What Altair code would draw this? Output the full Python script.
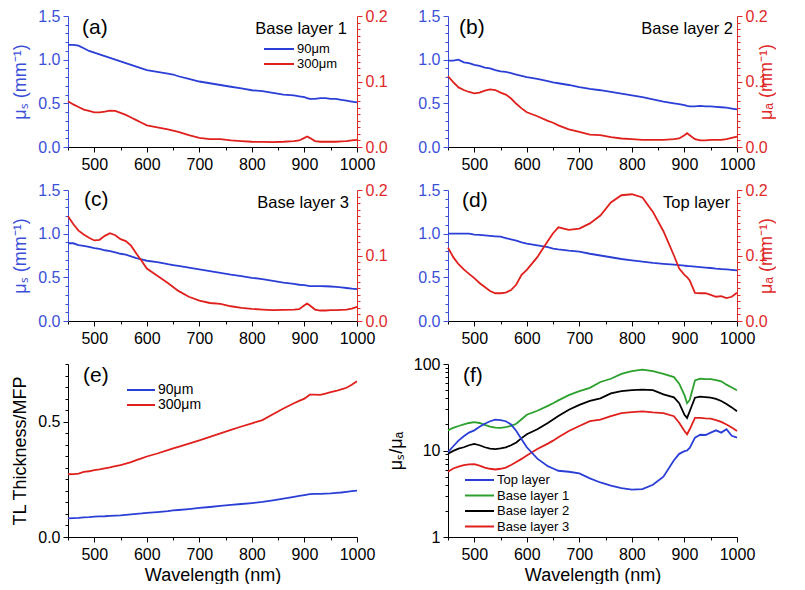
import altair as alt
import pandas as pd

# ---------------- data ----------------
wavelength = [450, 460, 470, 480, 490, 500, 510, 520, 530, 540, 550, 560, 570, 580, 590, 600,
              620, 640, 650, 660, 680,
              700, 720, 740, 760, 780, 800, 820, 840, 860, 880,
              890, 900, 905, 910,
              920, 930, 940, 950, 960, 970, 980, 990, 1000]

a_mus = [1.17, 1.17, 1.16, 1.13, 1.10, 1.08, 1.06, 1.04, 1.02, 1.00, 0.98, 0.96, 0.94, 0.92, 0.90, 0.88,
         0.86, 0.84, 0.83, 0.81, 0.78,
         0.75, 0.73, 0.71, 0.69, 0.67, 0.65, 0.64, 0.62, 0.60, 0.59,
         0.58, 0.57, 0.56, 0.55,
         0.55, 0.56, 0.56, 0.55, 0.55, 0.54, 0.53, 0.52, 0.51]
a_mua = [0.070, 0.065, 0.061, 0.057, 0.055, 0.053, 0.053, 0.054, 0.0555, 0.055, 0.052, 0.049, 0.045, 0.041, 0.037, 0.033,
         0.030, 0.027, 0.025, 0.023, 0.018,
         0.014, 0.012, 0.012, 0.010, 0.009, 0.008, 0.0078, 0.0075, 0.008, 0.009,
         0.010, 0.014, 0.016, 0.014,
         0.009, 0.008, 0.008, 0.008, 0.008, 0.0085, 0.009, 0.010, 0.011]

b_mus = [0.99, 0.99, 1.00, 0.97, 0.96, 0.94, 0.93, 0.91, 0.90, 0.88, 0.865, 0.86, 0.845, 0.83, 0.815, 0.80,
         0.78, 0.755, 0.74, 0.73, 0.71,
         0.685, 0.665, 0.65, 0.63, 0.61, 0.59, 0.57, 0.545, 0.52, 0.50,
         0.49, 0.48, 0.47, 0.465,
         0.465, 0.47, 0.465, 0.465, 0.46, 0.455, 0.45, 0.44, 0.43]
b_mua = [0.108, 0.099, 0.091, 0.087, 0.084, 0.082, 0.083, 0.086, 0.088, 0.087, 0.083, 0.080, 0.074, 0.066, 0.059, 0.053,
         0.047, 0.040, 0.037, 0.033, 0.027,
         0.023, 0.019, 0.018, 0.015, 0.013, 0.012, 0.011, 0.011, 0.011, 0.012,
         0.013, 0.018, 0.021, 0.018,
         0.012, 0.010, 0.010, 0.011, 0.011, 0.011, 0.012, 0.014, 0.016]

c_mus = [0.89, 0.89, 0.87, 0.86, 0.85, 0.835, 0.825, 0.81, 0.80, 0.785, 0.77, 0.76, 0.74, 0.72, 0.705, 0.69,
         0.675, 0.65, 0.64, 0.63, 0.61,
         0.59, 0.57, 0.55, 0.53, 0.515, 0.495, 0.48, 0.46, 0.44, 0.425,
         0.415, 0.41, 0.405, 0.40,
         0.40, 0.40, 0.398, 0.395, 0.39, 0.385, 0.378, 0.37, 0.365]
c_mua = [0.160, 0.148, 0.138, 0.132, 0.127, 0.123, 0.124, 0.130, 0.134, 0.131, 0.125, 0.122, 0.115, 0.103, 0.092, 0.080,
         0.069, 0.058, 0.052, 0.046, 0.037,
         0.031, 0.0275, 0.026, 0.0225, 0.020, 0.0185, 0.0175, 0.0165, 0.017, 0.0175,
         0.018, 0.024, 0.0265, 0.024,
         0.0175, 0.016, 0.016, 0.0165, 0.0165, 0.017, 0.0175, 0.019, 0.0215]

d_mus = [1.0, 1.0, 1.0, 1.0, 1.0, 0.99, 0.985, 0.98, 0.975, 0.97, 0.965, 0.95, 0.935, 0.92, 0.90, 0.887,
         0.865, 0.845, 0.83, 0.82, 0.805,
         0.794, 0.77, 0.75, 0.73, 0.71, 0.694, 0.68, 0.665, 0.655, 0.645,
         0.64, 0.634, 0.63, 0.628,
         0.622, 0.617, 0.612, 0.607, 0.60, 0.595, 0.59, 0.585, 0.58]
d_mua = [0.112, 0.0975, 0.0867, 0.0787, 0.072, 0.0655, 0.058, 0.052, 0.0458, 0.0424, 0.0424, 0.0433, 0.0473, 0.0557, 0.0705, 0.078,
         0.0975, 0.122, 0.134, 0.143, 0.139,
         0.141, 0.149, 0.161, 0.181, 0.192, 0.1935, 0.1887, 0.1665, 0.137, 0.100,
         0.080, 0.0705, 0.067, 0.062,
         0.043, 0.0424, 0.0424, 0.040, 0.037, 0.038, 0.035, 0.037, 0.043]

e_90 = [0.081, 0.082, 0.083, 0.085, 0.086, 0.088, 0.089, 0.090, 0.092, 0.093, 0.094, 0.096, 0.098, 0.100, 0.102, 0.105,
        0.108, 0.112, 0.115, 0.117, 0.121,
        0.126, 0.130, 0.135, 0.139, 0.143, 0.147, 0.152, 0.159, 0.166, 0.174,
        0.178, 0.182, 0.184, 0.186,
        0.187, 0.187, 0.188, 0.189, 0.191, 0.193, 0.196, 0.199, 0.201]
e_300 = [0.272, 0.273, 0.275, 0.282, 0.285, 0.290, 0.293, 0.298, 0.302, 0.307, 0.312, 0.318, 0.325, 0.333, 0.341, 0.349,
         0.362, 0.377, 0.384, 0.391, 0.405,
         0.419, 0.434, 0.449, 0.464, 0.479, 0.493, 0.507, 0.532, 0.557, 0.580,
         0.590, 0.600, 0.608, 0.617,
         0.617, 0.616, 0.622, 0.628, 0.633, 0.640, 0.647, 0.660, 0.675]

f_top = [9.57, 11.2, 13.0, 14.6, 16.1, 17.1, 18.8, 20.4, 21.8, 22.8, 22.5, 21.8, 20.0, 16.8, 13.5, 10.9,
         8.04, 6.59, 6.2, 5.83, 5.68,
         5.43, 4.77, 4.27, 3.92, 3.68, 3.53, 3.58, 4.02, 4.99, 7.71,
         9.15, 9.82, 10.0, 10.7,
         14.1, 15.2, 15.1, 16.1, 17.1, 16.1, 17.6, 14.8, 14.1]
f_b1 = [17.1, 18.3, 19.2, 20.0, 20.8, 21.3, 20.8, 19.8, 18.9, 18.4, 18.3, 18.6, 19.3, 20.4, 23.0, 25.9,
        28.8, 32.8, 35.2, 38.0, 43.6,
        48.5, 53.0, 62.0, 67.5, 76.9, 82.5, 86.0, 82.5, 77.0, 70.5,
        59.3, 43.6, 35.2, 38.4,
        64.6, 67.5, 67.0, 66.7, 65.0, 63.0, 57.7, 53.5, 49.8]
f_b2 = [9.15, 9.9, 10.5, 10.9, 11.5, 11.9, 11.5, 10.9, 10.5, 10.4, 10.6, 10.9, 11.5, 12.4, 13.9, 15.4,
        17.6, 20.8, 22.8, 25.0, 29.6,
        33.7, 37.4, 40.1, 45.7, 48.5, 49.8, 50.5, 49.8, 44.5, 41.1,
        35.2, 25.9, 23.8, 28.4,
        40.8, 41.9, 41.5, 40.8, 39.5, 37.4, 34.5, 31.5, 28.4]
f_b3 = [5.68, 6.2, 6.5, 6.77, 6.9, 6.95, 6.7, 6.35, 6.15, 6.03, 6.15, 6.35, 6.8, 7.37, 8.0, 8.78,
        10.4, 12.0, 13.0, 14.2, 16.8,
        19.2, 21.8, 22.8, 24.9, 27.1, 27.8, 28.4, 27.6, 27.1, 24.9,
        20.9, 16.8, 15.4, 17.6,
        23.8, 23.8, 23.5, 23.3, 22.5, 21.4, 20.0, 18.4, 16.8]

panel_letters = ["(a)", "(b)", "(c)", "(d)", "(e)", "(f)"]
panel_names = ["Base layer 1", "Base layer 2", "Base layer 3", "Top layer"]
thickness_labels = ["90\u03bcm", "300\u03bcm"]
ratio_labels = ["Top layer", "Base layer 1", "Base layer 2", "Base layer 3"]

x_ticks = list(range(450, 1001, 50))
mus_ticks = [round(i * 0.1, 1) for i in range(16)]
mua_ticks = [round(i * 0.01, 2) for i in range(21)]
tl_ticks = [round(i * 0.05, 2) for i in range(16)]
ratio_ticks = [1, 2, 3, 4, 5, 6, 7, 8, 9, 10, 20, 30, 40, 50, 60, 70, 80, 90, 100]

# ---------------- styles ----------------
BLUE = "#2b3fd6"
RED = "#e0201c"
GREEN = "#2ca02c"
BLACK = "#000000"
AXBLUE = "#3b50d8"
AXRED = "#e02a2a"
FONT = "Liberation Sans"
W = 289
GAP = 91
H1 = 131
H3 = 173
LW = 1.8

df = pd.DataFrame({
    "wl": wavelength,
    "a_mus": a_mus, "a_mua": a_mua,
    "b_mus": b_mus, "b_mua": b_mua,
    "c_mus": c_mus, "c_mua": c_mua,
    "d_mus": d_mus, "d_mua": d_mua,
    "e_90": e_90, "e_300": e_300,
    "f_top": f_top, "f_b1": f_b1, "f_b2": f_b2, "f_b3": f_b3,
})


def cond_tick(test):
    return {"condition": {"test": test, "value": 5}, "value": 3}


def x_enc(title=None):
    test = "datum.value % 100 === 0"
    return alt.X("wl:Q",
                 scale=alt.Scale(domain=[450, 1000], nice=False, zero=False),
                 axis=alt.Axis(values=x_ticks, title=title,
                               labelExpr="datum.value % 100 === 0 ? format(datum.value, 'd') : ''",
                               tickSize=cond_tick(test), labelFlush=False, labelOverlap=False,
                               labelPadding=4, titlePadding=4))


def y_left(field, title, domain, ticks, mult, color):
    test = f"abs(datum.value*{mult} - round(datum.value*{mult})) < 0.001"
    return alt.Y(f"{field}:Q",
                 scale=alt.Scale(domain=domain, nice=False, zero=False),
                 axis=alt.Axis(orient="left", values=ticks, title=title,
                               labelExpr=f"{test} ? format(datum.value, '.1f') : ''",
                               tickSize=cond_tick(test), labelOverlap=False,
                               labelColor=color, tickColor=color, domainColor=color,
                               titleColor=color, labelPadding=3, titlePadding=8))


def y_right(field, title):
    test = "abs(datum.value*10 - round(datum.value*10)) < 0.001"
    return alt.Y(f"{field}:Q",
                 scale=alt.Scale(domain=[0, 0.2], nice=False, zero=False),
                 axis=alt.Axis(orient="right", values=mua_ticks, title=title,
                               labelExpr=f"{test} ? format(datum.value, '.1f') : ''",
                               tickSize=cond_tick(test), labelOverlap=False,
                               labelColor=AXRED, tickColor=AXRED, domainColor=AXRED,
                               titleColor=AXRED, titleAngle=270, labelPadding=3, titlePadding=8))


def text_layer(text, x, y, size, align="left", baseline="middle"):
    return alt.Chart(pd.DataFrame({"t": [text]})).mark_text(
        align=align, baseline=baseline, fontSize=size, font=FONT, color=BLACK
    ).encode(text="t:N", x=alt.value(x), y=alt.value(y))


def legend_layers(labels, colors, x0, x1, ys, size):
    layers = []
    for lab, col, yy in zip(labels, colors, ys):
        layers.append(alt.Chart(pd.DataFrame({"t": [lab]})).mark_rule(color=col, strokeWidth=2)
                      .encode(x=alt.value(x0), x2=alt.value(x1), y=alt.value(yy)))
        layers.append(text_layer(lab, x1 + 3, yy, size))
    return layers


def dual_panel(key, letter, name, letter_pos, name_pos, left_title, right_title, extra=None):
    base = alt.Chart(df)
    blue = base.mark_line(color=BLUE, strokeWidth=LW).encode(
        x=x_enc(), y=y_left(f"{key}_mus", left_title, [0, 1.5], mus_ticks, 2, AXBLUE))
    red = base.mark_line(color=RED, strokeWidth=LW).encode(
        x=x_enc(), y=y_right(f"{key}_mua", right_title))
    layers = [blue, red,
              text_layer(letter, letter_pos[0], letter_pos[1], 21),
              text_layer(name, name_pos[0], name_pos[1], 16.5, align="right", baseline="alphabetic")]
    if extra:
        layers += extra
    return alt.layer(*layers).resolve_scale(y="independent").properties(width=W, height=H1)


mus_title = "\u03bc\u209b (mm\u207b\u00b9)"
mua_title = "\u03bc\u2090 (mm\u207b\u00b9)"

pa = dual_panel("a", panel_letters[0], panel_names[0], (14, 12), (279, 18), mus_title, None,
                legend_layers(thickness_labels, [BLUE, RED], 196, 226, [33, 48], 13))
pb = dual_panel("b", panel_letters[1], panel_names[1], (11, 12), (285, 18), None, mua_title)
pc = dual_panel("c", panel_letters[2], panel_names[2], (16, 10), (281, 18), mus_title, None)
pd_ = dual_panel("d", panel_letters[3], panel_names[3], (14, 11), (282, 18), None, mua_title)

# panel (e)
base = alt.Chart(df)
e_lines = [
    base.mark_line(color=col, strokeWidth=LW).encode(
        x=x_enc("Wavelength (nm)"),
        y=y_left(field, "TL Thickness/MFP", [0, 0.75], tl_ticks, 2, BLACK))
    for field, col in [("e_90", BLUE), ("e_300", RED)]
]
pe = alt.layer(*e_lines, text_layer(panel_letters[4], 15, 12, 21),
               *legend_layers(thickness_labels, [BLUE, RED], 59, 87, [26, 41], 14)
               ).properties(width=W, height=H3)

# panel (f)
f_test = "datum.value == 1 || datum.value == 10 || datum.value == 100"
f_y_axis = alt.Axis(orient="left", values=ratio_ticks, title="\u03bc\u209b/\u03bc\u2090",
                    labelExpr=f"({f_test}) ? format(datum.value, 'd') : ''",
                    tickSize=cond_tick(f_test), labelOverlap=False, labelPadding=3, titlePadding=8)
f_lines = [
    base.mark_line(color=col, strokeWidth=LW).encode(
        x=x_enc("Wavelength (nm)"),
        y=alt.Y(f"{field}:Q", scale=alt.Scale(type="log", domain=[1, 100], nice=False), axis=f_y_axis))
    for field, col in [("f_b1", GREEN), ("f_b2", BLACK), ("f_b3", RED), ("f_top", BLUE)]
]
pf = alt.layer(*f_lines, text_layer(panel_letters[5], 15, 12, 21),
               *legend_layers(ratio_labels, [BLUE, GREEN, BLACK, RED], 17, 46, [116, 131.5, 147, 162.5], 13)
               ).properties(width=W, height=H3)

chart = alt.concat(pa, pb, pc, pd_, pe, pf, columns=2,
                   spacing={"row": 43, "column": GAP}, bounds="flush").properties(
    padding={"left": 3, "top": 0, "right": 0, "bottom": 0}
).configure_axis(
    labelFont=FONT, titleFont=FONT, labelFontSize=16, titleFontSize=18,
    titleFontWeight="normal", grid=False, labelColor=BLACK, titleColor=BLACK,
    tickColor=BLACK, domainColor=BLACK, domainWidth=1, tickWidth=1
).configure_view(stroke=None)

chart.save("out.html", embed_options={"renderer": "svg", "actions": False})
